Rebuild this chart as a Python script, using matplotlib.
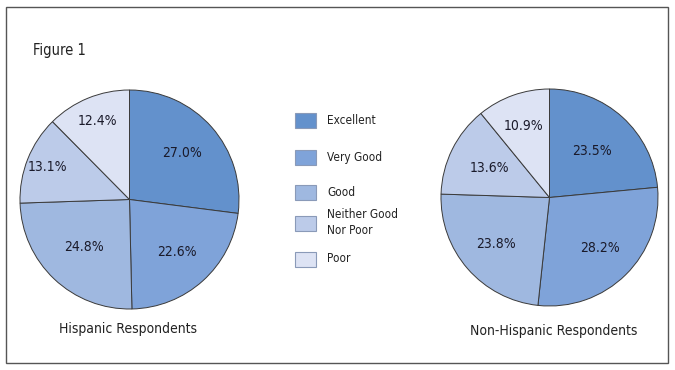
import numpy as np
import matplotlib.pyplot as plt
from matplotlib.patches import Rectangle

plt.rcParams['font.family'] = ['DejaVu Sans']
plt.rcParams['font.stretch'] = 'condensed'

categories = ["Excellent", "Very Good", "Good", "Neither Good\nNor Poor", "Poor"]
colors = ["#6391cc", "#7fa3d9", "#9fb8e0", "#bccbe9", "#dde3f4"]

hispanic = [27.0, 22.6, 24.8, 13.1, 12.4]
non_hispanic = [23.5, 28.2, 23.8, 13.6, 10.9]

# how far out each percentage sits, as a fraction of the radius
hisp_lbl_dist = [0.64, 0.64, 0.60, 0.81, 0.78]
nonh_lbl_dist = [0.58, 0.66, 0.65, 0.62, 0.70]

W, H = 675, 370
fig = plt.figure(figsize=(6.75, 3.7), dpi=100)
ax = fig.add_axes([0, 0, 1, 1])
ax.set_xlim(0, W)
ax.set_ylim(0, H)
ax.set_aspect('equal')
ax.axis('off')

# outer frame
ax.add_patch(Rectangle((6, H - 363), 662, 356, fill=False, ec="#555555", lw=1.0))

ax.text(33, H - 50, "Figure 1", fontsize=10.5, color="#222222", va='center', ha='left')


def draw_pie(values, center, radius, dists):
    wedges, _ = ax.pie(values, colors=colors, startangle=90, counterclock=False,
                       center=center, radius=radius,
                       wedgeprops=dict(edgecolor="#3a3a3a", linewidth=0.7))
    for w, v, d in zip(wedges, values, dists):
        mid = np.deg2rad((w.theta1 + w.theta2) / 2)
        x = center[0] + d * radius * np.cos(mid)
        y = center[1] + d * radius * np.sin(mid)
        ax.text(x, y, f"{v:.1f}%", ha='center', va='center', fontsize=10, color="#1a1a2a")


draw_pie(hispanic, (129.5, H - 199.5), 109.5, hisp_lbl_dist)
draw_pie(non_hispanic, (549.5, H - 197.5), 108.5, nonh_lbl_dist)

ax.set_xlim(0, W)
ax.set_ylim(0, H)

ax.text(128, H - 329, "Hispanic Respondents", fontsize=10, ha='center', va='center', color="#222222")
ax.text(554, H - 331, "Non-Hispanic Respondents", fontsize=10, ha='center', va='center', color="#222222")

# legend
leg_y = [120, 157, 192, 223, 259]
for lab, c, y in zip(categories, colors, leg_y):
    ax.add_patch(Rectangle((295, H - y - 7.5), 21, 15, fc=c, ec="#8a9ab8", lw=0.8))
    ax.text(327, H - y, lab, fontsize=8.5, ha='left', va='center', color="#222222",
            linespacing=1.3)

fig.savefig("out.png", dpi=100)
